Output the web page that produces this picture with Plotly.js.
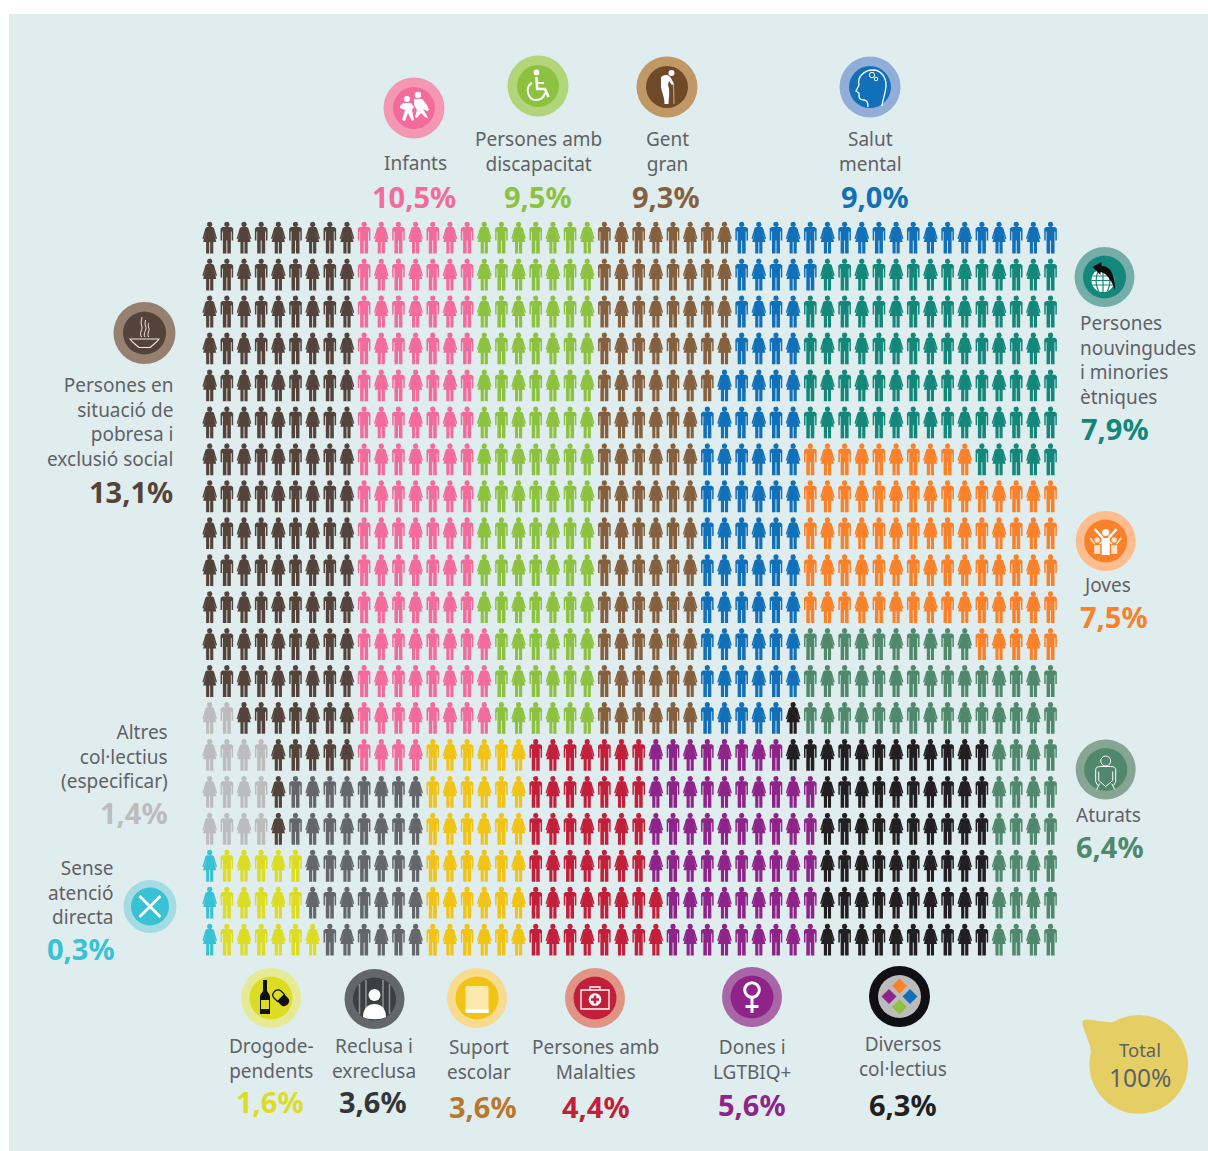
<!DOCTYPE html>
<html>
<head>
<meta charset="utf-8">
<title>Col·lectius atesos</title>
<script src="https://cdn.plot.ly/plotly-3.0.1.min.js"></script>
<style>html,body{margin:0;padding:0;background:#fff;overflow:hidden}#chart{width:1208px;height:1151px}</style>
</head>
<body>
<div id="chart"></div>
<script>
// ---------- DATA ----------
const categories = [
  'Persones en situació de pobresa i exclusió social', 'Infants', 'Persones amb discapacitat', 'Gent gran',
  'Salut mental', 'Persones nouvingudes i minories ètniques', 'Joves', 'Aturats', 'Diversos col·lectius',
  'Dones i LGTBIQ+', 'Persones amb Malalties', 'Suport escolar', 'Reclusa i exreclusa', 'Drogodependents',
  'Altres col·lectius (especificar)', 'Sense atenció directa'
];
// people out of 1000 (one figure = 0,1%)
const values = [131, 105, 95, 93, 90, 79, 75, 64, 63, 56, 44, 36, 36, 16, 14, 3];
const colors = ['#54433a', '#f26b9b', '#8cc23f', '#85603f', '#1170b8', '#13877a', '#f9812a', '#4f886b',
                '#231f20', '#8e2489', '#c21f3a', '#f0c314', '#63676b', '#dcdc24', '#bcbcbc', '#39c2d3'];
// each row of the pictogram, left to right: which category, and how many figures
const rowCategories = [
  [0,1,2,3,4], [0,1,2,3,4,5], [0,1,2,3,4,5], [0,1,2,3,4,5], [0,1,2,3,4,5], [0,1,2,3,4,5],
  [0,1,2,3,4,6,5], [0,1,2,3,4,6], [0,1,2,3,4,6], [0,1,2,3,4,6], [0,1,2,3,4,6],
  [0,1,2,3,4,7,6], [0,1,2,3,4,7], [14,0,1,2,3,4,8,7], [14,0,1,11,10,9,8,7],
  [14,0,12,11,10,9,8,7], [14,0,12,11,10,9,8,7],
  [15,13,12,11,10,9,8,7], [15,13,12,11,10,9,8,7], [15,13,12,11,10,9,8,7]
];
const rowCounts = [
  [9,7,7,8,19], [9,7,7,8,5,14], [9,7,7,8,4,15], [9,7,7,8,4,15], [9,7,7,7,5,15], [9,7,7,6,6,15],
  [9,7,7,6,6,10,5], [9,7,7,6,6,15], [9,7,7,6,6,15], [9,7,7,6,6,15], [9,7,7,6,6,15],
  [9,8,6,6,6,10,5], [9,8,6,6,6,15], [2,7,8,6,6,5,1,15], [4,5,4,6,7,8,12,4],
  [4,1,8,6,7,10,10,4], [4,1,8,6,7,10,10,4],
  [1,5,7,6,7,10,10,4], [1,5,7,6,8,9,10,4], [1,6,6,6,8,9,10,4]
];
const labelLines = [
  ['Persones en','situació de','pobresa i','exclusió social'], ['Infants'], ['Persones amb','discapacitat'], ['Gent','gran'],
  ['Salut','mental'], ['Persones','nouvingudes','i minories','ètniques'], ['Joves'], ['Aturats'], ['Diversos','col·lectius'],
  ['Dones i','LGTBIQ+'], ['Persones amb','Malalties'], ['Suport','escolar'], ['Reclusa i','exreclusa'], ['Drogode-','pendents'],
  ['Altres','col·lectius','(especificar)'], ['Sense','atenció','directa']
];

// ---------- LAYOUT CONSTANTS ----------
const W = 1208, H = 1151;
const X0 = 209.7, DX = 17.16, Y0 = 238, DY = 36.95;
const BG = '#dfedef', TEXT = '#5f6265';
const valueColors = colors.slice();
valueColors[11] = '#b9772c'; valueColors[12] = '#333639';
const ringColors = ['#96806f','#f497b2','#b3d57a','#bf9866','#91aed9','#75aea8','#fdbd8f','#86a593',
                    '#0f0f14','#a866a7','#e09584','#f8db8e','#63676b','#e7ea95',null,'#a5dce4'];
const innerColors = ['#54433a','#f26b9b','#8cc23f','#70482a','#1170b8','#13877a','#f9812a','#4f886b',
                     '#bcbcbc','#8e2489','#c21f3a','#f0c314','#3c3f42','#dcdc24',null,'#39c2d3'];
// per category: icon centre+radii, text x, anchor, mid y of label block, value x,y
const place = [
  {ic:[144.5,333,31,21.5], tx:174, a:'right', ly:422, vx:174, vy:491.5},
  {ic:[414,108,30.5,21],   tx:415, a:'center', ly:163, vx:414, vy:196.5},
  {ic:[538,86,30.5,21],    tx:538, a:'center', ly:151, vx:538, vy:196.5},
  {ic:[667,87,30.5,21],    tx:667, a:'center', ly:151, vx:666, vy:196.5},
  {ic:[870,87,30.5,21],    tx:870, a:'center', ly:151, vx:875, vy:196.5},
  {ic:[1104.5,277,30,21.5],tx:1079, a:'left', ly:360, vx:1080, vy:428.5},
  {ic:[1105.7,541,30,21.5],tx:1082, a:'left', ly:584.5, vx:1079, vy:616},
  {ic:[1105.7,769.5,30,21.5],tx:1075, a:'left', ly:814.5, vx:1075, vy:846},
  {ic:[899.5,996.5,30.5,21.5], tx:903, a:'center', ly:1056, vx:903, vy:1104.5},
  {ic:[752,997,30,21.5],   tx:752, a:'center', ly:1059, vx:752, vy:1104.5},
  {ic:[595,998,30,21.5],   tx:595, a:'center', ly:1059, vx:596, vy:1106.5},
  {ic:[477,998,30,21.5],   tx:479, a:'center', ly:1059, vx:483, vy:1106.5},
  {ic:[374.5,999,30,21.5], tx:374, a:'center', ly:1058, vx:373, vy:1101.7},
  {ic:[271,998,30,21.5],   tx:271, a:'center', ly:1058, vx:270, vy:1101.7},
  {ic:null,                tx:169, a:'right', ly:756, vx:169, vy:812},
  {ic:[150,906.5,26.5,19], tx:115, a:'right', ly:892, vx:116, vy:948}
];

// ---------- PERSON GLYPHS (offsets in px round a cell) ----------
const maleBody = [[-4.5,-11],[4.5,-11],[6.3,-9.5],[6.3,2.5],[4.8,2.5],[4.8,-6.5],[4,-6.5],[4,15.5],[0.45,15.5],[0.45,2.5],[-0.45,2.5],[-0.45,15.5],[-4,15.5],[-4,-6.5],[-4.8,-6.5],[-4.8,2.5],[-6.3,2.5],[-6.3,-9.5]];
const femaleBody = [[-2.8,-11],[2.8,-11],[4.2,-10],[7.3,0.5],[6.1,1.2],[3.6,-6.5],[6.6,4],[3.6,4],[3.6,15.5],[0.45,15.5],[0.45,4],[-0.45,4],[-0.45,15.5],[-3.6,15.5],[-3.6,4],[-6.6,4],[-3.6,-6.5],[-6.1,1.2],[-7.3,0.5],[-4.2,-10]];
const head = Array.from({length:14},(_,i)=>[2.8*Math.cos(i*Math.PI/7), -13.6+2.8*Math.sin(i*Math.PI/7)]);

const xs = categories.map(()=>[]), ys = categories.map(()=>[]);
function addPoly(cat, col, row, poly){
  poly.forEach(p=>{ xs[cat].push(col+p[0]/DX); ys[cat].push(row+p[1]/DY); });
  xs[cat].push(xs[cat][xs[cat].length-poly.length]); ys[cat].push(ys[cat][ys[cat].length-poly.length]);
  xs[cat].push(null); ys[cat].push(null);
}
rowCategories.forEach((cats,row)=>{
  let col = 0;
  cats.forEach((cat,k)=>{
    for(let n=0;n<rowCounts[row][k];n++,col++){
      addPoly(cat,col,row,col%2===0?femaleBody:maleBody);
      addPoly(cat,col,row,head);
    }
  });
});
const traces = categories.map((name,i)=>({
  type:'scatter', mode:'lines', name, x:xs[i], y:ys[i], fill:'toself', fillcolor:colors[i],
  line:{width:0,color:colors[i]}, hoverinfo:'skip', showlegend:false
}));

// ---------- SHAPES (icons) ----------
const px = x=>x/W, py = y=>1-y/H;
const shapes = [{type:'rect',xref:'paper',yref:'paper',x0:px(9),x1:px(W),y0:py(14),y1:py(H),fillcolor:BG,line:{width:0},layer:'below'}];
function circle(cx,cy,r,fill,stroke,sw){
  shapes.push({type:'circle',xref:'paper',yref:'paper',x0:px(cx-r),x1:px(cx+r),y0:py(cy+r),y1:py(cy-r),
    fillcolor:fill||'rgba(0,0,0,0)',line:{width:stroke?(sw||1):0,color:stroke||'rgba(0,0,0,0)'},layer:'below'});
}
function path(cx,cy,d,fill,stroke,sw){
  let isX = true;
  const out = d.replace(/-?\d+(\.\d+)?/g,m=>{
    const v = parseFloat(m); const r = isX?px(cx+v):py(cy+v); isX=!isX; return r.toFixed(6);
  });
  shapes.push({type:'path',xref:'paper',yref:'paper',path:out,fillcolor:fill||'rgba(0,0,0,0)',
    line:{width:stroke?(sw||1):0,color:stroke||'rgba(0,0,0,0)'},layer:'below'});
}
place.forEach((p,i)=>{ if(p.ic){ circle(p.ic[0],p.ic[1],p.ic[2],ringColors[i]); circle(p.ic[0],p.ic[1],p.ic[3],innerColors[i]); } });

const c = i=>place[i].ic;
// poverty bowl
(()=>{const [x,y]=c(0),s='#efe8df';
  path(x,y,'M -14.5 6 L 14.5 6 C 12 10 8 12 5.5 14.5 L -5.5 14.5 C -8 12 -12 10 -14.5 6 Z',null,s,1.1);
  path(x,y,'M -3 4 C -6 -1 -1 -3 -3 -8 C -4 -11 -3 -13 -2.5 -16',null,s,1);
  path(x,y,'M 0.5 4 C -2 0 3 -3 1 -7 C 0 -10 1 -11 1 -13',null,s,1);
  path(x,y,'M 4 4 C 2 0 6 -2 4 -6 C 3.5 -8 4 -9 4 -10',null,s,1);
})();
// infants
(()=>{const [x,y]=c(1),w='#ffffff';
  circle(x-7,y-9,3,w); circle(x+4,y-13,3.2,w);
  path(x,y,'M -11 -5 L -3 -5 L 0 -1 L -2 2 L 0 12 L -2 13 L -6 5 L -9 13 L -12 12 L -9 2 L -14 0 L -14 -2 Z',w);
  path(x,y,'M 0 -9 L 8 -9 L 13 -3 L 15 2 L 13 3 L 9 1 L 12 6 L 14 10 L 11 9 L 7 5 L 3 10 L 1 9 L 3 2 L 0 -3 Z',w);
})();
// wheelchair
(()=>{const [x,y]=c(2),w='#ffffff';
  circle(x-1.5,y-13.5,2.9,w);
  path(x,y,'M -1.5 -9 L -0.8 3 L 7 3 L 10.5 11',null,w,2.6);
  path(x,y,'M -1.2 -3 L 6 -3',null,w,2);
  path(x,y,'M -6 -3 C -13 0 -11 14 -2 14 C 3 14 6 11 7 7',null,w,2);
})();
// old person
(()=>{const [x,y]=c(3),w='#ffffff';
  circle(x+4.5,y-14,3,w);
  path(x,y,'M 6.5 -3 L 7 17',null,'#bf9866',1.3);
  path(x,y,'M -6 -10 C -1 -13.5 2 -12 4 -9 L 7 -3 L 5 -2 L 2 -6 L 1 -2 C 3 3 2 9 1.5 17 L -2.5 17 C -2.5 10 -5 6 -6 0 Z',w);
})();
// head
(()=>{const [x,y]=c(4),w='#ffffff';
  path(x,y,'M -2 20 C -2 15 -3 13 -6 13 C -9 13 -11 12 -11 9 L -11 6 L -14 4 L -11 -2 C -13 -10 -6 -17 3 -17 C 11 -17 16 -10 16 -2 C 16 5 13 11 12 19',null,w,1.3);
  circle(x+2,y-12,2.7,null,w,1); circle(x+6,y-8,1.8,null,w,1);
})();
// globe and arrow
(()=>{const [x,y]=c(5),w='#ffffff',t='#13877a';
  circle(x-1.5,y+3.5,11.5,w);
  path(x,y,'M -13 3.5 L 10 3.5 M -12 -1 L 9 -1 M -12 8 L 9 8 M -1.5 -8 L -1.5 15',null,t,1.2);
  path(x,y,'M -6 -7 C -9 0 -9 8 -6 14 M 3 -7 C 6 0 6 8 3 14',null,t,1.2);
  path(x,y,'M -12 -10 L -3 -15 L -3 -11 C 5 -11 11 -4 10.5 13 C 7 3 2 -4 -4 -5 L -4 -2 Z','#0d0d10');
})();
// youth
(()=>{const [x,y]=c(6),w='#ffffff',l='#fde2cc';
  circle(x-8.5,y-1,2.7,l); circle(x+8.5,y-1,2.7,l);
  path(x,y,'M -11.5 4 L -5.5 4 L -5.5 13 L -11.5 13 Z M 5.5 4 L 11.5 4 L 11.5 13 L 5.5 13 Z',l);
  path(x,y,'M -11 3 L -15.5 -3 M 11 3 L 15.5 -3 M -6 3 L -3 0 M 6 3 L 3 0',null,l,1.6);
  circle(x,y-8.5,3.6,w);
  path(x,y,'M -4 -3 L 4 -3 L 4 14 L -4 14 Z',w);
  path(x,y,'M -3 -3 L -11 -12 M 3 -3 L 11 -12',null,w,2.4);
})();
// unemployed
(()=>{const [x,y]=c(7),w='#ffffff';
  circle(x,y-8.5,5,null,w,1);
  path(x,y,'M -5 -3 C -8 -3 -10 -2 -10 0 L -10 12 L -8 16 M 5 -3 C 8 -3 10 -2 10 0 L 10 12 L 8 16 M -5 -3 L 5 -3 M -7 2 L -7 11 L 0 17 L 7 11 L 7 2 M -9 20 L -6 14 M 9 20 L 6 14',null,w,1);
})();
// diverse
(()=>{const [x,y]=c(8);
  const d=(a,b,col)=>path(x,y,`M ${a} ${b-7.5} L ${a+7.5} ${b} L ${a} ${b+7.5} L ${a-7.5} ${b} Z`,col);
  d(0,-10.5,'#f9812a'); d(10.5,0,'#1170b8'); d(0,10.5,'#8cc23f'); d(-10.5,0,'#8e2489');
})();
// women
(()=>{const [x,y]=c(9),w='#ffffff';
  circle(x,y-7,7.3,null,w,3);
  path(x,y,'M 0 0.5 L 0 16 M -6.5 9.5 L 6.5 9.5',null,w,3);
})();
// medical kit
(()=>{const [x,y]=c(10),w='#ffffff';
  path(x,y,'M -14 -8 L 14 -8 L 14 11 L -14 11 Z',null,w,1.3);
  path(x,y,'M -5 -8 L -5 -11 L 5 -11 L 5 -8',null,w,1.3);
  circle(x,y+1.5,6.3,w);
  path(x,y,'M -1.3 -2.5 L 1.3 -2.5 L 1.3 0.2 L 4 0.2 L 4 2.8 L 1.3 2.8 L 1.3 5.5 L -1.3 5.5 L -1.3 2.8 L -4 2.8 L -4 0.2 L -1.3 0.2 Z','#c21f3a');
})();
// book
(()=>{const [x,y]=c(11);
  path(x,y,'M -10 -12 L 10 -12 C 11 -12 11.5 -11.5 11.5 -10 L 11.5 15 L -10 15 C -11 15 -11.5 14 -11.5 13 L -11.5 -10 C -11.5 -11 -11 -12 -10 -12 Z','#fbe8ad');
  path(x,y,'M -11.5 11 L 11.5 11 L 11.5 15 L -10 15 C -11 15 -11.5 14 -11.5 13 Z','#ffffff');
})();
// prisoner
(()=>{const [x,y]=c(12),w='#ffffff',b='#8a8d90';
  path(x,y,'M -15 -15 L -15 15 M -8.5 -19 L -8.5 19 M 8.5 -19 L 8.5 19 M 15 -15 L 15 15',null,b,1.6);
  path(x,y,'M -11.5 18 C -11.5 9 -6 5 0 5 C 6 5 11.5 9 11.5 18 C 7 21 -7 21 -11.5 18 Z',w);
  circle(x,y-4,6,w);
})();
// bottle + capsule
(()=>{const [x,y]=c(13),k='#101012';
  path(x,y,'M -8 -18 L -4 -18 L -4 -8 C -4 -5 -1 -5 -1 -1 L -1 16 L -11 16 L -11 -1 C -11 -5 -8 -5 -8 -8 Z',k);
  path(x,y,'M -10 2 L -2 2 L -2 11 L -10 11 Z','#dcdc24');
  path(x,y,'M 13.5 -3.5 L 10 -7 C 6 -11 -1 -4 3 0 L 6.5 3.5 Z','#dcdc24',k,1.2);
  path(x,y,'M 13.5 -3.5 L 17 0 C 21 4 14 11 10 7 L 6.5 3.5 Z',k);
})();
// no care: cross
(()=>{const [x,y]=c(15),w='#ffffff';
  path(x,y,'M -10.5 -10.5 L 10.5 10.5 M -10.5 10.5 L 10.5 -10.5',null,w,2.8);
})();
// Total bubble
circle(1138.7,1064.4,49.3,'#e5cf64');
path(0,0,'M 1114 1022 C 1105 1023 1096 1020 1086 1019.5 C 1082 1019.5 1082 1023 1083 1026 C 1085 1034 1090 1042 1091 1052 L 1120 1040 Z','#e5cf64');

// ---------- TEXT ----------
const FONT = '"Noto Sans", "Open Sans", sans-serif';
const annotations = [];
function note(x,y,text,size,color,anchor,weight){
  annotations.push({xref:'paper',yref:'paper',x:px(x),y:py(y),text,showarrow:false,xanchor:anchor,yanchor:'middle',align:anchor,
    borderpad:0,font:{family:FONT,size,color,weight:weight||400}});
}
categories.forEach((_,i)=>{
  const p = place[i];
  note(p.tx,p.ly,labelLines[i].join('<br>'),19,TEXT,p.a);
  note(p.vx,p.vy,(values[i]/10).toFixed(1).replace('.',',')+'%',29,valueColors[i],p.a,700);
});
note(1140,1049.5,'Total',18.5,TEXT,'center');
note(1140,1077.5,'100%',24.5,TEXT,'center');

Plotly.newPlot('chart',traces,{
  width:W,height:H,margin:{l:0,r:0,t:0,b:0},paper_bgcolor:'#ffffff',plot_bgcolor:'rgba(0,0,0,0)',showlegend:false,
  xaxis:{visible:false,range:[-X0/DX,(W-X0)/DX],fixedrange:true},
  yaxis:{visible:false,range:[(H-Y0)/DY,-Y0/DY],fixedrange:true},
  shapes,annotations
},{staticPlot:true,displayModeBar:false});
</script>
</body>
</html>
